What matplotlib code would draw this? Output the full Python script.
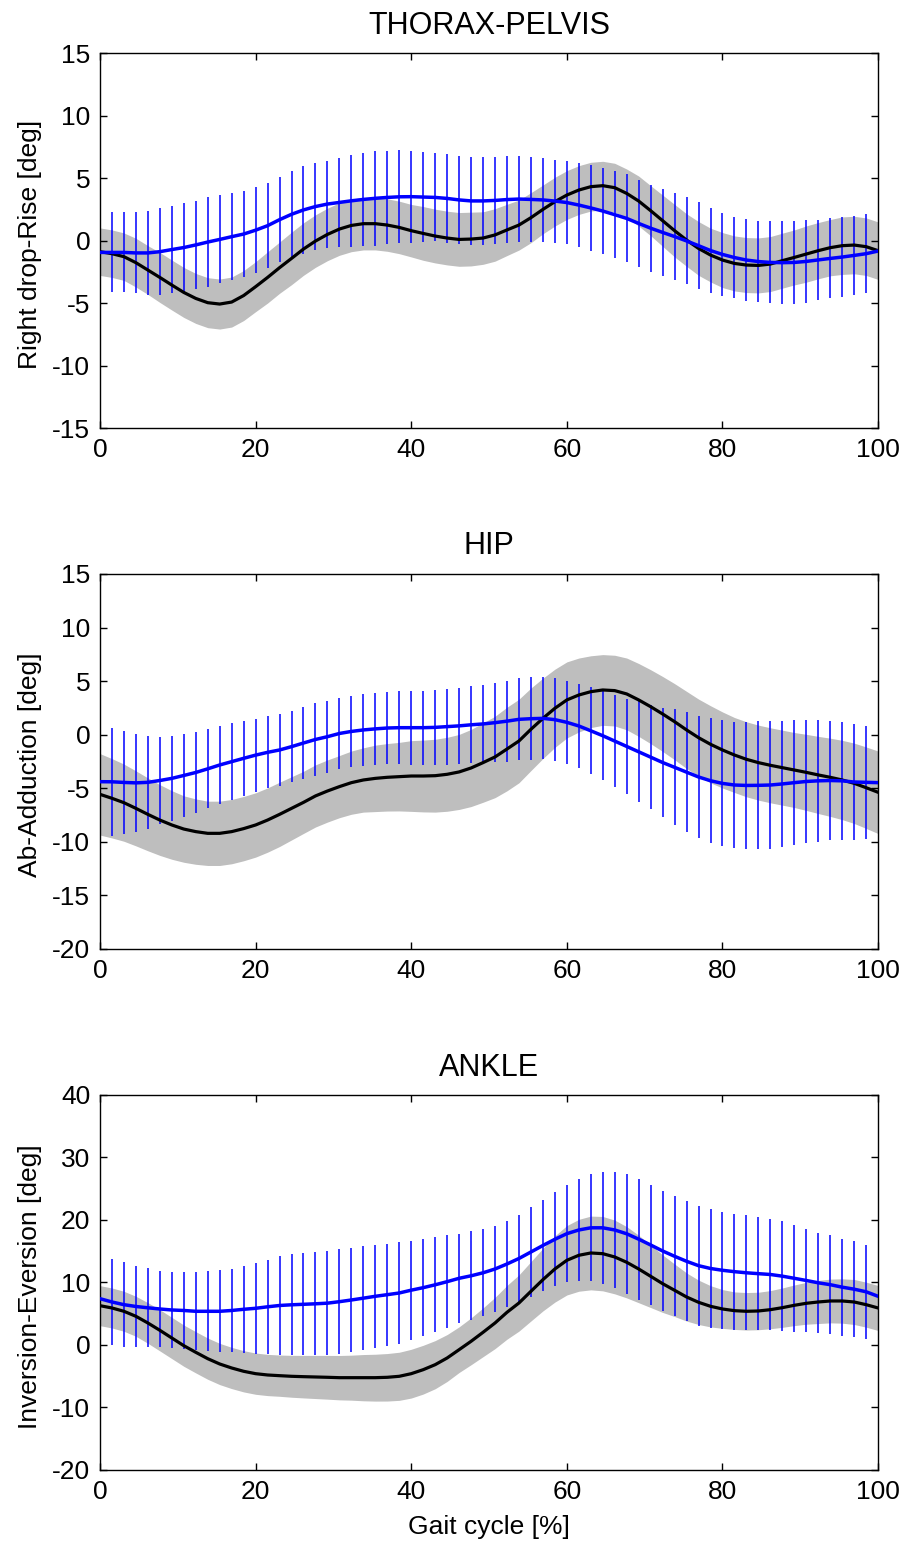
import matplotlib
matplotlib.use('Agg')
import matplotlib.pyplot as plt
import numpy as np

plt.rcParams['font.family'] = ['Liberation Sans', 'DejaVu Sans']
plt.rcParams['axes.unicode_minus'] = False

# gait cycle sampling (66 samples from 0 to 100 %), error bars on the inner ones
gait = np.linspace(0, 100, 66)

# ---- THORAX-PELVIS ----
pelvis_ref_mean = [-0.89, -1.05, -1.29, -1.77, -2.36, -2.95, -3.56, -4.15, -4.63, -4.97,
                   -5.08, -4.92, -4.40, -3.69, -2.95, -2.17, -1.43, -0.68, -0.04, 0.49,
                   0.92, 1.21, 1.35, 1.35, 1.24, 1.05, 0.79, 0.57, 0.36, 0.20,
                   0.09, 0.12, 0.20, 0.45, 0.85, 1.24, 1.83, 2.49, 3.11, 3.64,
                   4.04, 4.31, 4.39, 4.23, 3.77, 3.16, 2.39, 1.59, 0.79, 0.04,
                   -0.63, -1.16, -1.56, -1.83, -1.96, -1.99, -1.88, -1.61, -1.35, -1.08,
                   -0.81, -0.57, -0.41, -0.36, -0.49, -0.81]
pelvis_ref_sd = [1.90, 1.90, 1.90, 1.95, 1.95, 2.00, 2.00, 2.00, 2.00, 2.00,
                 2.00, 2.00, 2.00, 2.00, 2.05, 2.05, 2.10, 2.10, 2.10, 2.10,
                 2.10, 2.10, 2.10, 2.10, 2.10, 2.10, 2.10, 2.15, 2.15, 2.15,
                 2.15, 2.15, 2.10, 2.10, 2.05, 2.00, 2.00, 1.95, 1.95, 1.95,
                 1.95, 1.95, 1.95, 1.95, 1.95, 2.00, 2.00, 2.05, 2.10, 2.10,
                 2.15, 2.15, 2.20, 2.20, 2.20, 2.20, 2.20, 2.20, 2.20, 2.25,
                 2.25, 2.25, 2.30, 2.30, 2.30, 2.30]
pelvis_pat_mean = [-0.95, -0.95, -0.95, -0.99, -0.99, -0.89, -0.72, -0.56, -0.35, -0.12,
                   0.09, 0.31, 0.52, 0.83, 1.19, 1.67, 2.10, 2.45, 2.72, 2.92,
                   3.05, 3.18, 3.29, 3.38, 3.45, 3.50, 3.51, 3.48, 3.45, 3.37,
                   3.25, 3.17, 3.17, 3.21, 3.28, 3.32, 3.29, 3.25, 3.16, 3.04,
                   2.84, 2.61, 2.36, 2.07, 1.77, 1.37, 0.99, 0.65, 0.32, -0.03,
                   -0.41, -0.80, -1.11, -1.36, -1.56, -1.68, -1.75, -1.77, -1.75, -1.67,
                   -1.55, -1.43, -1.32, -1.19, -1.05, -0.84]
pelvis_pat_sd = [3.20, 3.20, 3.24, 3.37, 3.47, 3.51, 3.53, 3.53, 3.57, 3.52,
                 3.47, 3.47, 3.45, 3.41, 3.41, 3.47, 3.49, 3.49, 3.48, 3.57,
                 3.67, 3.75, 3.81, 3.75, 3.73, 3.67, 3.60, 3.52, 3.53, 3.53,
                 3.53, 3.53, 3.49, 3.45, 3.41, 3.39, 3.35, 3.32, 3.35, 3.39,
                 3.43, 3.44, 3.49, 3.52, 3.47, 3.48, 3.47, 3.48, 3.48, 3.47,
                 3.37, 3.33, 3.27, 3.25, 3.24, 3.28, 3.31, 3.33, 3.31, 3.21,
                 3.20, 3.17, 3.17, 3.17]

# ---- HIP ----
hip_ref_mean = [-5.57, -5.94, -6.35, -6.88, -7.44, -7.97, -8.43, -8.81, -9.05, -9.21,
                -9.21, -9.05, -8.77, -8.43, -7.97, -7.44, -6.88, -6.32, -5.72, -5.26,
                -4.85, -4.48, -4.23, -4.08, -3.98, -3.92, -3.86, -3.86, -3.83, -3.70,
                -3.48, -3.11, -2.61, -2.08, -1.34, -0.59, 0.50, 1.52, 2.46, 3.24,
                3.70, 4.01, 4.17, 4.11, 3.80, 3.24, 2.61, 1.93, 1.21, 0.44,
                -0.28, -0.90, -1.43, -1.90, -2.30, -2.61, -2.86, -3.08, -3.30, -3.52,
                -3.76, -3.98, -4.23, -4.54, -4.95, -5.38]
hip_ref_sd = [3.80, 3.70, 3.60, 3.50, 3.40, 3.30, 3.20, 3.10, 3.05, 3.00,
              3.00, 3.00, 3.00, 3.00, 3.00, 3.00, 2.95, 2.90, 2.90, 2.90,
              2.90, 2.95, 3.00, 3.10, 3.15, 3.20, 3.30, 3.35, 3.40, 3.45,
              3.50, 3.60, 3.70, 3.80, 3.90, 3.90, 3.85, 3.75, 3.65, 3.55,
              3.45, 3.35, 3.30, 3.30, 3.35, 3.40, 3.45, 3.50, 3.55, 3.60,
              3.60, 3.60, 3.55, 3.50, 3.50, 3.50, 3.50, 3.50, 3.50, 3.55,
              3.60, 3.65, 3.70, 3.75, 3.80, 3.85]
hip_pat_mean = [-4.39, -4.40, -4.46, -4.50, -4.45, -4.28, -4.08, -3.81, -3.53, -3.19,
                -2.83, -2.52, -2.21, -1.91, -1.65, -1.43, -1.12, -0.78, -0.45, -0.19,
                0.11, 0.30, 0.44, 0.54, 0.62, 0.65, 0.65, 0.65, 0.68, 0.75,
                0.82, 0.92, 1.00, 1.12, 1.26, 1.43, 1.49, 1.52, 1.40, 1.15,
                0.81, 0.36, -0.10, -0.60, -1.10, -1.60, -2.10, -2.60, -3.05, -3.50,
                -3.95, -4.30, -4.55, -4.70, -4.74, -4.73, -4.70, -4.60, -4.48, -4.37,
                -4.31, -4.28, -4.31, -4.42, -4.45, -4.48]
hip_pat_sd = [5.06, 4.81, 4.56, 4.32, 4.09, 3.95, 3.84, 3.75, 3.69, 3.67,
              3.58, 3.48, 3.41, 3.36, 3.33, 3.33, 3.36, 3.38, 3.36, 3.31,
              3.31, 3.33, 3.34, 3.36, 3.39, 3.45, 3.45, 3.48, 3.55, 3.56,
              3.59, 3.64, 3.69, 3.78, 3.83, 3.86, 3.83, 3.86, 3.89, 3.95,
              4.06, 4.17, 4.28, 4.43, 4.71, 4.87, 5.09, 5.41, 5.60, 5.71,
              5.82, 5.88, 5.91, 5.96, 5.97, 5.94, 5.91, 5.85, 5.77, 5.68,
              5.55, 5.52, 5.41, 5.29]

# ---- ANKLE ----
ankle_ref_mean = [6.29, 5.92, 5.39, 4.59, 3.52, 2.35, 1.12, -0.11, -1.17, -2.19,
                  -3.04, -3.68, -4.21, -4.59, -4.80, -4.91, -5.01, -5.07, -5.12, -5.17,
                  -5.23, -5.23, -5.23, -5.23, -5.17, -5.01, -4.59, -3.95, -3.15, -2.08,
                  -0.75, 0.59, 2.03, 3.52, 5.23, 6.72, 8.59, 10.45, 12.16, 13.55,
                  14.35, 14.72, 14.61, 14.08, 13.23, 12.16, 10.99, 9.81, 8.75, 7.68,
                  6.83, 6.19, 5.76, 5.49, 5.39, 5.44, 5.65, 5.97, 6.35, 6.67,
                  6.88, 7.04, 7.04, 6.88, 6.45, 5.92]
ankle_ref_sd = [3.20, 3.20, 3.20, 3.20, 3.25, 3.30, 3.30, 3.30, 3.30, 3.30,
                3.30, 3.30, 3.30, 3.30, 3.30, 3.30, 3.35, 3.40, 3.45, 3.50,
                3.55, 3.60, 3.70, 3.75, 3.80, 3.85, 3.90, 3.90, 3.85, 3.75,
                3.65, 3.75, 3.90, 4.10, 4.30, 4.50, 4.75, 5.00, 5.30, 5.55,
                5.75, 5.90, 5.95, 5.90, 5.70, 5.40, 5.00, 4.60, 4.20, 3.85,
                3.55, 3.30, 3.10, 3.00, 3.00, 3.00, 3.05, 3.15, 3.25, 3.35,
                3.45, 3.50, 3.55, 3.60, 3.60, 3.60]
ankle_pat_mean = [7.41, 6.88, 6.45, 6.16, 5.95, 5.76, 5.60, 5.52, 5.39, 5.39,
                  5.39, 5.52, 5.71, 5.87, 6.11, 6.32, 6.43, 6.51, 6.59, 6.69,
                  6.93, 7.20, 7.49, 7.79, 8.05, 8.32, 8.77, 9.17, 9.63, 10.13,
                  10.67, 11.07, 11.55, 12.16, 12.96, 13.84, 14.88, 15.92, 16.91, 17.81,
                  18.40, 18.75, 18.75, 18.40, 17.79, 16.93, 16.00, 15.04, 14.19, 13.39,
                  12.69, 12.24, 11.95, 11.73, 11.55, 11.41, 11.28, 11.01, 10.67, 10.32,
                  9.95, 9.65, 9.25, 8.93, 8.51, 7.79]
ankle_pat_sd = [6.93, 6.77, 6.53, 6.32, 6.13, 6.08, 6.11, 6.24, 6.40, 6.56,
                6.69, 6.99, 7.25, 7.55, 7.87, 8.08, 8.16, 8.24, 8.35, 8.37,
                8.37, 8.35, 8.27, 8.16, 8.11, 7.92, 7.79, 7.60, 7.41, 7.15,
                7.12, 6.96, 6.88, 6.91, 7.01, 7.20, 7.33, 7.52, 7.79, 8.16,
                8.56, 8.93, 9.28, 9.57, 9.68, 9.65, 9.65, 9.60, 9.60, 9.60,
                9.52, 9.39, 9.28, 9.20, 9.07, 8.93, 8.77, 8.59, 8.29, 8.03,
                7.89, 7.76, 7.71, 7.55]

titles = ['THORAX-PELVIS', 'HIP', 'ANKLE']
ylabels = ['Right drop-Rise [deg]', 'Ab-Adduction [deg]', 'Inversion-Eversion [deg]']
ylims = [(-15, 15), (-20, 15), (-20, 40)]
ystep = [5, 5, 10]


def plot_panel(ax, ref_mean, ref_sd, pat_mean, pat_sd, title, ylabel, ylim, step):
    ref_mean = np.array(ref_mean)
    ref_sd = np.array(ref_sd)
    pat_mean = np.array(pat_mean)

    # normative band
    ax.fill_between(gait, ref_mean - ref_sd, ref_mean + ref_sd, color='#bebebe', lw=0, zorder=1)
    # patient SD bars (no caps)
    ax.errorbar(gait[1:-1], pat_mean[1:-1], yerr=pat_sd, fmt='none', ecolor='#0000ff',
                elinewidth=1.1, capsize=0, zorder=2)
    ax.plot(gait, ref_mean, color='black', lw=2.3, zorder=3)
    ax.plot(gait, pat_mean, color='#0000ff', lw=2.5, zorder=4)

    ax.set_xlim(0, 100)
    ax.set_ylim(ylim[0], ylim[1])
    ax.set_xticks(np.arange(0, 101, 20))
    ax.set_yticks(np.arange(ylim[0], ylim[1] + 1, step))
    ax.tick_params(direction='in', top=True, right=True, length=5, width=1, labelsize=19)
    ax.tick_params(axis='x', pad=7)
    ax.tick_params(axis='y', pad=7)
    for sp in ax.spines.values():
        sp.set_linewidth(1.0)
    ax.set_title(title, fontsize=22, pad=14)
    ax.set_ylabel(ylabel, fontsize=19)
    ax.yaxis.set_label_coords(-0.075, 0.49)


fig = plt.figure(figsize=(9.09, 15.42), dpi=100)
bottoms = [0.7224, 0.3846, 0.0467]
data = [(pelvis_ref_mean, pelvis_ref_sd, pelvis_pat_mean, pelvis_pat_sd),
        (hip_ref_mean, hip_ref_sd, hip_pat_mean, hip_pat_sd),
        (ankle_ref_mean, ankle_ref_sd, ankle_pat_mean, ankle_pat_sd)]

for i in range(3):
    ax = fig.add_axes([0.110, bottoms[i], 0.856, 0.2432])
    plot_panel(ax, *data[i], titles[i], ylabels[i], ylims[i], ystep[i])
    if i == 2:
        ax.set_xlabel('Gait cycle [%]', fontsize=19, labelpad=8)

plt.savefig('out.png', dpi=100)
plt.close('all')
